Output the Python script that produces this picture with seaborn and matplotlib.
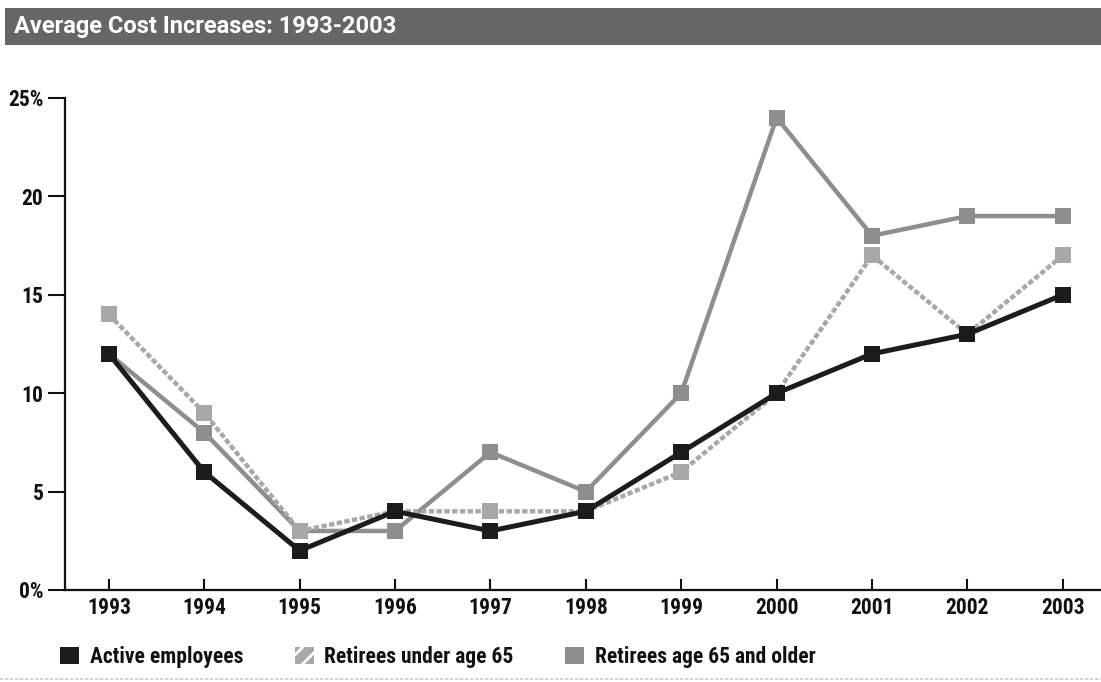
import matplotlib
matplotlib.use("Agg")
import matplotlib.pyplot as plt
import seaborn as sns
import pandas as pd
from matplotlib.patches import Rectangle, Patch

years = [1993, 1994, 1995, 1996, 1997, 1998, 1999, 2000, 2001, 2002, 2003]
active = [12, 6, 2, 4, 3, 4, 7, 10, 12, 13, 15]
under65 = [14, 9, 3, 4, 4, 4, 6, 10, 17, 13, 17]
over65 = [12, 8, 3, 3, 7, 5, 10, 24, 18, 19, 19]
series_names = ["Active employees", "Retirees under age 65", "Retirees age 65 and older"]
y_ticks = [0, 5, 10, 15, 20, 25]
y_labels = ["0%", "5", "10", "15", "20", "25%"]
title = "Average Cost Increases: 1993-2003"

sns.set_style("white")
plt.rcParams['font.family'] = ['Roboto Condensed', 'Liberation Sans Narrow', 'DejaVu Sans']
plt.rcParams['hatch.linewidth'] = 2.0

fig = plt.figure(figsize=(11.01, 6.82), dpi=100)
ax = fig.add_axes([65/1101, 1 - 590/682, (1101-65)/1101, (590-98)/682])

c_active = "#1c1c1c"
c_under = "#a8a8a8"
c_over = "#8e8e8e"

df_over = pd.DataFrame({"year": years, "val": over65})
df_under = pd.DataFrame({"year": years, "val": under65})
df_active = pd.DataFrame({"year": years, "val": active})

sns.lineplot(data=df_over, x="year", y="val", ax=ax, color=c_over, lw=3.2,
             marker="s", markersize=11.5, markeredgewidth=0, zorder=2)
sns.lineplot(data=df_under, x="year", y="val", ax=ax, color=c_under, lw=3.2,
             marker="s", markersize=11.5, markeredgewidth=0, zorder=3)
ax.lines[-1].set_dashes((1.2, 0.55))
sns.lineplot(data=df_active, x="year", y="val", ax=ax, color=c_active, lw=3.6,
             marker="s", markersize=11.5, markeredgewidth=0, zorder=4)

ax.set_xlim(1992.54, 2003.4)
ax.set_ylim(0, 25)
ax.set_xticks(years)
ax.set_xticklabels([str(y) for y in years])
ax.set_yticks(y_ticks)
ax.set_yticklabels(y_labels)
ax.set_xlabel("")
ax.set_ylabel("")
for s in ["top", "right"]:
    ax.spines[s].set_visible(False)
for s in ["left", "bottom"]:
    ax.spines[s].set_color("#111111")
    ax.spines[s].set_linewidth(1.6)
ax.tick_params(axis="x", direction="in", length=8, width=1.5, color="#111111",
               pad=5, labelsize=15.5, labelcolor="#111111")
ax.tick_params(axis="y", direction="out", length=12.5, width=1.5, color="#111111",
               pad=3, labelsize=15.5, labelcolor="#111111")
ax.tick_params(axis="both", which="both", bottom=True, left=True)
for t in ax.get_xticklabels() + ax.get_yticklabels():
    t.set_fontweight("bold")
for ln in ax.lines:
    ln.set_clip_on(False)

# title bar
fig.patches.append(Rectangle((5/1101, 1 - 45/682), 1096/1101, 37/682,
                             transform=fig.transFigure, facecolor="#666666",
                             edgecolor="none", zorder=0))
fig.text(14/1101, 1 - 27/682, title, color="white", fontsize=17,
         fontweight="bold", va="center", ha="left", family=["Roboto", "DejaVu Sans"])

# legend
handles = [Patch(facecolor=c_active, edgecolor=c_active, linewidth=0),
           Patch(facecolor=c_under, edgecolor="white", hatch="//", linewidth=0),
           Patch(facecolor=c_over, edgecolor=c_over, linewidth=0)]
leg = fig.legend(handles, series_names, loc="center left",
                 bbox_to_anchor=(41/1101, 1 - 657/682), ncol=3, frameon=False,
                 prop={"size": 15.5, "weight": "bold"}, handlelength=0.87,
                 handleheight=0.87, handletextpad=0.5, columnspacing=2.4)
for t in leg.get_texts():
    t.set_color("#111111")

# faint rule at bottom
fig.add_artist(plt.Line2D([0, 1], [1 - 679/682] * 2, transform=fig.transFigure,
                          color="#cccccc", lw=1.2, linestyle=(0, (2, 1))))

fig.savefig("out.png", dpi=100)
